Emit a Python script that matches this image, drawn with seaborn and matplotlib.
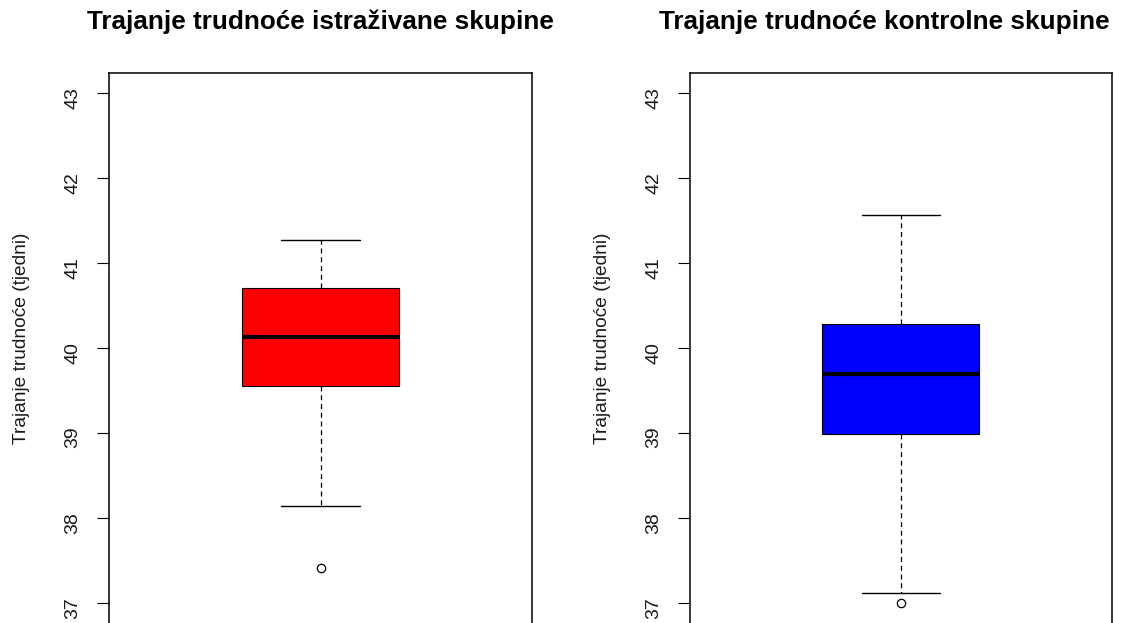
import matplotlib
matplotlib.use("Agg")
import matplotlib.pyplot as plt
import seaborn as sns

# gestation length in weeks per group (values picked so the box stats match the chart)
study_weeks = [37.42, 38.14, 39.56, 39.56, 40.13, 40.71, 40.71, 41.28, 41.28]
control_weeks = [37.00, 37.12, 38.99, 38.99, 39.70, 40.29, 40.29, 41.57, 41.57]

titles = ["Trajanje trudnoće istraživane skupine", "Trajanje trudnoće kontrolne skupine"]
title_x = [0.5, 0.46]
box_colors = ["#FF0000", "#0000FF"]
y_label = "Trajanje trudnoće (tjedni)"
y_ticks = [37, 38, 39, 40, 41, 42, 43]

sns.set_style("white")
plt.rcParams["font.family"] = ["Liberation Sans", "DejaVu Sans"]

fig = plt.figure(figsize=(11.33, 6.23), dpi=100)
ax_left = fig.add_axes([0.0965, -0.0005, 0.3728, 0.8828])
ax_right = fig.add_axes([0.609, -0.0005, 0.3721, 0.8828])

for ax, weeks, color, title, tx in zip([ax_left, ax_right], [study_weeks, control_weeks],
                                       box_colors, titles, title_x):
    sns.boxplot(y=weeks, ax=ax, color=color, saturation=1, width=0.372,
                linecolor="black", linewidth=0.8, whis=1.5,
                medianprops={"linewidth": 3.0},
                whiskerprops={"linestyle": (0, (4, 3)), "linewidth": 0.9},
                capprops={"linewidth": 1.0},
                flierprops={"marker": "o", "markerfacecolor": "white",
                            "markeredgecolor": "black", "markersize": 6,
                            "markeredgewidth": 0.9})
    ax.set_xlim(-0.5, 0.5)
    ax.set_ylim(36.765, 43.235)
    ax.set_xticks([])
    ax.set_yticks(y_ticks)
    ax.tick_params(axis="y", left=True, length=9, width=0.8, color="black",
                   labelsize=14, labelrotation=90, pad=11, labelcolor="#1a1a1a")
    for spine in ax.spines.values():
        spine.set_visible(True)
        spine.set_color("black")
        spine.set_linewidth(1.1)
    ax.spines["bottom"].set_visible(False)
    ax.set_ylabel(y_label, fontsize=13.8, color="#1a1a1a")
    ax.yaxis.set_label_coords(-0.188, 0.518)
    ax.set_title(title, fontsize=18.8, fontweight="bold", pad=32, color="black", x=tx)

fig.savefig("out.png", dpi=100)
